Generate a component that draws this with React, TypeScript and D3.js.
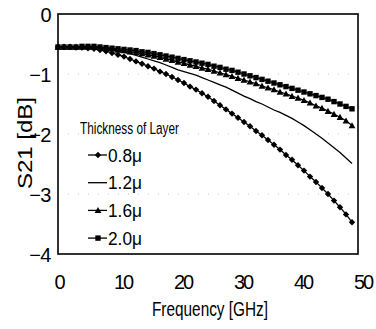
import React from "react";
import * as d3 from "d3";

const freqs = [0,1,2,3,4,5,6,7,8,9,10,11,12,13,14,15,16,17,18,19,20,21,22,23,24,25,26,27,28,29,30,31,32,33,34,35,36,37,38,39,40,41,42,43,44,45,46,47,48,49];
const s08 = [-0.55,-0.55,-0.55,-0.56,-0.56,-0.57,-0.58,-0.60,-0.62,-0.65,-0.68,-0.71,-0.75,-0.79,-0.83,-0.87,-0.91,-0.96,-1.00,-1.05,-1.10,-1.15,-1.21,-1.26,-1.32,-1.38,-1.45,-1.52,-1.59,-1.66,-1.73,-1.80,-1.87,-1.95,-2.02,-2.10,-2.18,-2.26,-2.35,-2.43,-2.52,-2.61,-2.71,-2.80,-2.90,-3.00,-3.11,-3.22,-3.34,-3.47];
const s12 = [-0.55,-0.55,-0.55,-0.55,-0.55,-0.55,-0.56,-0.57,-0.58,-0.60,-0.62,-0.64,-0.66,-0.69,-0.72,-0.75,-0.78,-0.81,-0.85,-0.89,-0.93,-0.96,-0.99,-1.02,-1.06,-1.10,-1.14,-1.18,-1.22,-1.27,-1.32,-1.37,-1.41,-1.46,-1.50,-1.55,-1.60,-1.64,-1.69,-1.74,-1.80,-1.86,-1.93,-2.00,-2.07,-2.15,-2.23,-2.31,-2.40,-2.49];
const s16 = [-0.55,-0.55,-0.55,-0.55,-0.55,-0.55,-0.55,-0.56,-0.57,-0.58,-0.60,-0.61,-0.63,-0.64,-0.66,-0.68,-0.70,-0.72,-0.75,-0.77,-0.80,-0.82,-0.85,-0.87,-0.90,-0.92,-0.95,-0.98,-1.01,-1.04,-1.07,-1.10,-1.13,-1.16,-1.20,-1.23,-1.26,-1.30,-1.33,-1.37,-1.40,-1.44,-1.48,-1.53,-1.57,-1.62,-1.67,-1.72,-1.78,-1.86];
const s20 = [-0.55,-0.55,-0.55,-0.55,-0.54,-0.54,-0.54,-0.55,-0.56,-0.57,-0.58,-0.59,-0.60,-0.61,-0.63,-0.64,-0.66,-0.68,-0.70,-0.72,-0.74,-0.76,-0.78,-0.80,-0.82,-0.84,-0.87,-0.89,-0.92,-0.94,-0.97,-1.00,-1.03,-1.06,-1.09,-1.12,-1.15,-1.18,-1.21,-1.24,-1.27,-1.30,-1.33,-1.36,-1.39,-1.42,-1.46,-1.50,-1.54,-1.58];

const seriesLabels = ["0.8μ", "1.2μ", "1.6μ", "2.0μ"];
const seriesMarkers = ["diamond", "none", "triangle", "square"];
const seriesValues = [s08, s12, s16, s20];

const xTicks = [0, 10, 20, 30, 40, 50];
const yTicks = [0, -1, -2, -3, -4];

const W = 376, H = 329;
const L = 58, R = 358, T = 14, B = 254;

function Marker({ type, x, y }: { type: string; x: number; y: number }) {
  if (type === "diamond") {
    const s = 3.2;
    return <path d={`M${x},${y - s}L${x + s},${y}L${x},${y + s}L${x - s},${y}Z`} fill="#000" />;
  }
  if (type === "triangle") {
    const s = 3.4;
    return <path d={`M${x},${y - s}L${x + s},${y + s * 0.8}L${x - s},${y + s * 0.8}Z`} fill="#000" />;
  }
  if (type === "square") {
    const s = 2.7;
    return <rect x={x - s} y={y - s} width={2 * s} height={2 * s} fill="#000" />;
  }
  return null;
}

export default function App() {
  const x = d3.scaleLinear().domain([0, 50]).range([L, R]);
  const y = d3.scaleLinear().domain([-4, 0]).range([B, T]);
  const line = d3.line<number>().x((_, i) => x(freqs[i])).y((d) => y(d));
  const font = "'Liberation Sans', Arial, sans-serif";
  const legX = 88, legY0 = 155, legDy = 27.7;

  return (
    <svg width={W} height={H} style={{ position: "absolute", left: 0, top: 0, background: "#fff" }} fontFamily={font}>
      <rect x={0} y={0} width={W} height={H} fill="#fff" />
      {yTicks.slice(1, 4).map((t) => (
        <line key={"g" + t} x1={L} x2={R} y1={y(t)} y2={y(t)} stroke="#bbb" strokeWidth={0.8} strokeDasharray="1 9" />
      ))}
      {seriesValues.map((vals, si) => (
        <g key={si}>
          <path d={line(vals) || ""} fill="none" stroke="#000" strokeWidth={1.3} />
          {seriesMarkers[si] !== "none" &&
            vals.map((v, i) => <Marker key={i} type={seriesMarkers[si]} x={x(freqs[i])} y={y(v)} />)}
        </g>
      ))}
      <rect x={L} y={T} width={R - L} height={B - T} fill="none" stroke="#000" strokeWidth={1.6} />
      {xTicks.map((t) => (
        <text key={"x" + t} x={x(t) + (t === 0 ? 1 : 5)} y={289} textAnchor="middle" fontSize={20} letterSpacing={-2}>
          {t}
        </text>
      ))}
      {yTicks.map((t) => (
        <text key={"y" + t} x={51} y={y(t) + 8} textAnchor="end" fontSize={20} letterSpacing={-0.5}>
          {t === 0 ? "0" : "\u2212" + Math.abs(t)}
        </text>
      ))}
      <text x={210} y={316} textAnchor="middle" fontSize={20} textLength={116} lengthAdjust="spacingAndGlyphs">
        Frequency [GHz]
      </text>
      <text transform={`translate(32,143) rotate(-90)`} textAnchor="middle" fontSize={20} textLength={92} lengthAdjust="spacingAndGlyphs">
        S21 [dB]
      </text>
      <text x={80} y={134} fontSize={16} textLength={99} lengthAdjust="spacingAndGlyphs">
        Thickness of Layer
      </text>
      {seriesLabels.map((lab, i) => {
        const yy = legY0 + i * legDy;
        return (
          <g key={lab}>
            <line x1={legX} x2={legX + 19} y1={yy} y2={yy} stroke="#000" strokeWidth={1.3} />
            <Marker type={seriesMarkers[i]} x={legX + 10} y={yy} />
            <text x={legX + 20} y={yy + 6.5} fontSize={18} textLength={34} lengthAdjust="spacingAndGlyphs">
              {lab}
            </text>
          </g>
        );
      })}
    </svg>
  );
}
